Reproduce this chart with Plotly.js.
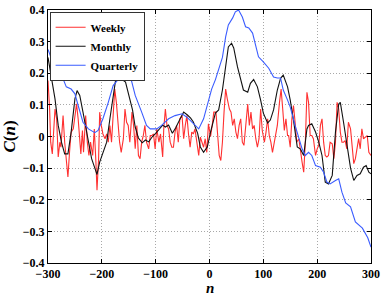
<!DOCTYPE html>
<html>
<head>
<meta charset="utf-8">
<script src="https://cdn.plot.ly/plotly-3.0.1.min.js"></script>
<style>html,body{margin:0;padding:0;background:#fff;}#chart{width:382px;height:297px;}</style>
</head>
<body>
<div id="chart"></div>
<script>
// Weekly (red)
var weeklyN = [-300,-297,-295,-292,-287,-284,-281,-278,-276,-272,-269,-266,-263,-260,-257,-253,-250,-247,-244,-241,-239,-236,-234,-230,-227,-224,-221,-217,-214,-211,-209,-206,-204,-201,-198,-194,-191,-188,-185,-182,-179,-176,-173,-170,-167,-164,-160,-157,-154,
  -151,-148,-144,-141,-138,-135,-132,-129,-126,-123,-120,-117,-113,-110,-107,-104,-101,-98,-94,-91,-87,-85,-82,-79,-76,-73,-70,-67,-64,-61,-58,-55,-51,-48,-45,-42,-39,-36,-33,-30,-27,-23,-20,-17,-14,-11,-8,-5,
  -2,2,5,8,12,15,18,21,24,27,30,33,37,40,43,46,49,52,55,58,61,64,68,71,74,77,80,83,86,89,92,95,98,102,105,108,111,114,117,120,123,126,130,133,136,139,142,145,
  147,150,153,156,159,162,166,169,172,175,178,181,184,187,190,193,197,200,203,206,209,212,215,218,221,224,228,231,234,237,240,243,246,249,252,255,258,262,265,268,271,274,277,280,283,286,290,293,296,300];
var weeklyC = [0.177,0.087,-0.018,-0.055,0.087,0.056,-0.065,-0.018,-0.034,0.066,-0.018,-0.07,-0.128,-0.05,0.014,0.024,0.072,0.103,0.056,-0.018,-0.055,0.019,-0.05,0.066,-0.018,-0.06,-0.018,-0.06,0.024,-0.081,-0.17,-0.07,0.077,0.035,0.008,-0.007,0.008,-0.018,0.035,-0.018,0.056,0.15,0.108,0.035,-0.018,-0.05,-0.007,0.087,0.045,
  0.035,-0.018,0.077,0.035,-0.039,0.035,-0.06,-0.07,-0.018,0.003,0.035,-0.018,-0.039,0.003,0.003,0.008,-0.039,0.024,-0.018,0.008,-0.065,0.024,0.087,0.035,0.024,-0.018,-0.034,-0.034,0.014,0.035,-0.018,0.056,0.066,-0.007,0.035,0.066,0.008,-0.034,0.014,0.008,0.024,-0.018,-0.06,-0.002,-0.018,-0.034,-0.007,-0.05,
  0.04,0.0,0.035,0.077,0.077,0.014,-0.06,-0.076,-0.018,0.077,0.15,0.119,0.087,0.077,0.035,0.056,0.014,-0.007,0.035,0.056,-0.018,-0.028,0.035,0.103,0.035,0.077,0.024,0.035,-0.007,-0.034,-0.007,0.087,0.019,-0.018,0.014,0.056,0.003,-0.018,-0.05,-0.018,0.003,0.035,0.108,0.15,0.087,0.019,0.056,0.003,
  0.003,-0.034,0.056,0.098,0.045,-0.018,-0.007,-0.05,-0.081,-0.113,-0.018,0.14,0.108,0.003,0.003,-0.007,-0.06,-0.039,-0.028,0.035,0.056,-0.018,-0.06,-0.065,-0.06,-0.018,-0.023,-0.07,-0.018,0.108,0.087,0.014,-0.018,-0.018,-0.013,-0.039,0.045,0.024,-0.028,-0.086,-0.07,-0.039,-0.007,-0.039,0.024,-0.007,-0.002,0.003,-0.05,-0.06];

// Monthly (black)
var monthlyN = [-300,-294,-287,-281,-275,-269,-263,-257,-250,-246,-241,-235,-225,-219,-213,-209,-204,-198,-191,-185,-179,-173,-169,-162,-156,-151,-143,-138,-132,-125,-119,-113,-106,-100,-95,-87,-82,-76,-69,-63,-54,-48,-41,-35,-30,-22,-17,-11,-4,2,11,17,24,30,35,41,45,52,58,63,71,76,82,89,95,100,108,113,119,126,132,137,145,150,156,163,169,175,181,184,190,197,203,209,215,221,228,234,240,243,249,255,262,268,274,280,286,291,296,300];
var monthlyC = [0.25,0.193,0.119,0.035,-0.018,-0.055,-0.055,0.014,0.119,0.145,0.13,0.077,-0.018,-0.07,-0.1,-0.12,-0.081,-0.05,-0.018,0.056,0.13,0.195,0.2,0.18,0.172,0.137,0.084,0.03,-0.005,-0.02,-0.011,-0.017,0,0.01,0.02,0.036,0.03,0.036,0.01,0.027,0.058,0.077,0.068,0.058,0.046,0.01,-0.033,-0.05,-0.033,0.015,0.074,0.084,0.147,0.232,0.283,0.295,0.28,0.22,0.18,0.147,0.14,0.168,0.18,0.157,0.115,0.074,0.043,0.052,0.084,0.147,0.184,0.194,0.157,0.115,0.052,-0.033,-0.04,-0.06,0.024,0.035,0.04,0.014,-0.018,-0.06,-0.144,-0.15,-0.123,0.014,0.103,0.108,0.045,-0.028,-0.1,-0.139,-0.123,-0.118,-0.097,-0.092,-0.113,-0.118];

// Quarterly (blue)
var quarterlyN = [-300,-290,-275,-266,-257,-250,-244,-235,-225,-213,-207,-198,-188,-179,-165,-155,-147,-138,-126,-117,-110,-98,-89,-76,-64,-51,-42,-30,-20,-11,-2,4,11,17,24,30,35,43,48,54,61,67,73,80,86,91,100,110,119,126,132,137,145,150,159,166,172,178,184,190,197,206,212,218,224,234,240,246,253,262,271,284,294,300];
var quarterlyC = [0.275,0.23,0.195,0.157,0.15,0.135,0.098,0.045,0.024,0.012,0.019,0.056,0.108,0.161,0.19,0.2,0.19,0.13,0.077,0.035,0.024,0.024,0.035,0.056,0.066,0.072,0.061,0.04,0.024,0.056,0.115,0.15,0.18,0.21,0.25,0.315,0.353,0.375,0.394,0.4,0.378,0.347,0.343,0.327,0.283,0.252,0.236,0.216,0.188,0.185,0.185,0.147,0.115,0.093,0.035,-0.007,-0.039,-0.06,-0.05,-0.06,-0.092,-0.097,-0.113,-0.144,-0.15,-0.139,-0.134,-0.176,-0.21,-0.222,-0.27,-0.29,-0.32,-0.35];

var seriesNames = ['Weekly','Monthly','Quarterly'];
var xTicks = [-300,-200,-100,0,100,200,300];
var yTicks = [-0.4,-0.3,-0.2,-0.1,0,0.1,0.2,0.3,0.4];
var xTitle = '<b><i>n</i></b>';
var yTitle = '<b><i>C</i>(<i>n</i>)</b>';

var serif = 'Liberation Serif, Times New Roman, serif';
var traces = [
  {x: weeklyN, y: weeklyC, name: seriesNames[0], mode: 'lines', line: {color: '#ff3030', width: 1.1}},
  {x: monthlyN, y: monthlyC, name: seriesNames[1], mode: 'lines', line: {color: '#111111', width: 1.1}},
  {x: quarterlyN, y: quarterlyC, name: seriesNames[2], mode: 'lines', line: {color: '#3a5cff', width: 1.1}}
];

var axisCommon = {
  showgrid: true, gridcolor: '#a8a8a8', griddash: '1px,2px', gridwidth: 1,
  zeroline: false, showline: true, linecolor: '#000', linewidth: 1, mirror: 'ticks',
  ticks: 'inside', ticklen: 4, tickcolor: '#000',
  tickfont: {family: serif, size: 12, color: '#000', weight: 'bold'}
};

var marginB = 34, plotH = 297 - 10 - marginB;

var layout = {
  width: 382, height: 297,
  margin: {l: 48, r: 11, t: 10, b: marginB},
  paper_bgcolor: '#fff', plot_bgcolor: '#fff',
  showlegend: true,
  legend: {x: 0.005, y: 0.993, xanchor: 'left', yanchor: 'top', bgcolor: '#fff',
    bordercolor: '#333', borderwidth: 1, font: {family: serif, size: 11, color: '#000', weight: 'bold'},
    tracegroupgap: 0, itemwidth: 30},
  xaxis: Object.assign({}, axisCommon, {range: [-300, 300], tickvals: xTicks}),
  yaxis: Object.assign({}, axisCommon, {range: [-0.4, 0.4], tickvals: yTicks,
    title: {text: yTitle, font: {family: serif, size: 17, color: '#000'}, standoff: 5}}),
  annotations: [{
    text: xTitle, xref: 'paper', yref: 'paper', x: 0.5, y: -marginB / plotH,
    xanchor: 'center', yanchor: 'bottom', showarrow: false, borderpad: 0,
    font: {family: serif, size: 15, color: '#000'}
  }]
};

Plotly.newPlot('chart', traces, layout, {displayModeBar: false, staticPlot: true});
</script>
</body>
</html>
